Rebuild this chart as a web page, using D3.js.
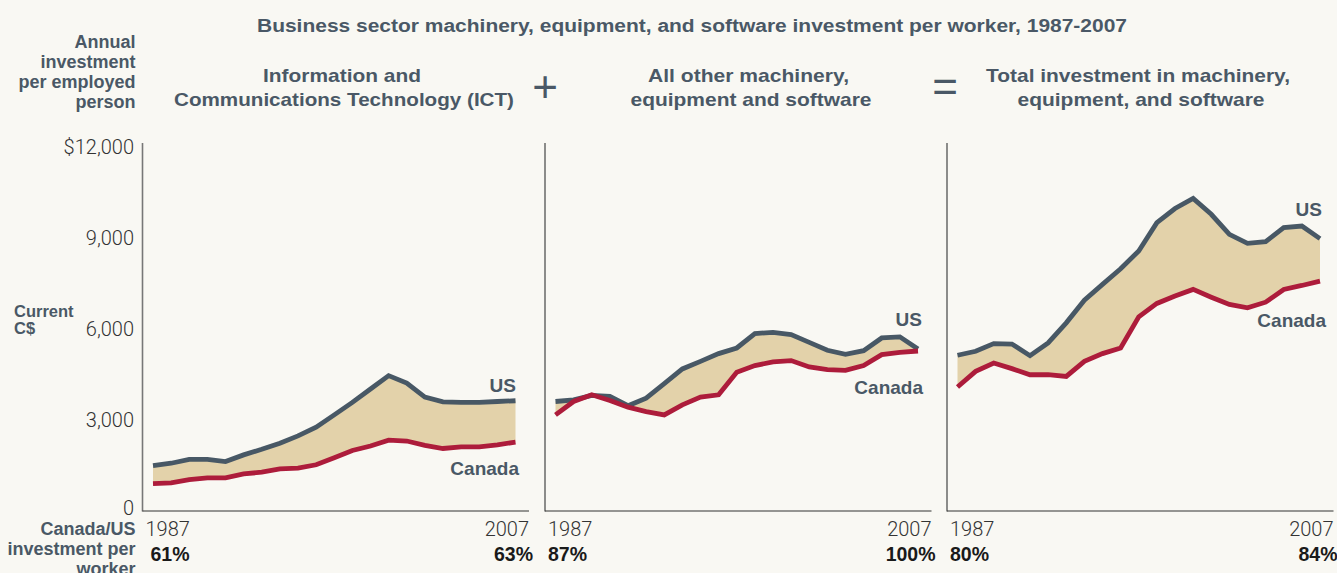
<!DOCTYPE html>
<html><head><meta charset="utf-8">
<script src="https://cdn.jsdelivr.net/npm/d3@7"></script>
<style>html,body{margin:0;padding:0;background:#f9f8f3;} svg{display:block;}</style>
</head><body>
<svg id="c" width="1337" height="573"></svg>
<script>
// ---------- DATA ----------
const years = [1987,1988,1989,1990,1991,1992,1993,1994,1995,1996,1997,1998,1999,2000,2001,2002,2003,2004,2005,2006,2007];
const ictUS   = [1490,1570,1700,1700,1625,1845,2030,2230,2470,2755,3160,3570,4010,4450,4205,3745,3590,3570,3570,3600,3625];
const ictCA   = [ 900, 925,1035,1090,1090,1220,1275,1385,1410,1520,1750,1990,2135,2330,2300,2155,2055,2110,2110,2175,2265];
const otherUS = [3600,3655,3800,3765,3460,3710,4185,4670,4920,5175,5360,5835,5875,5800,5545,5285,5150,5270,5690,5725,5325];
const otherCA = [3160,3600,3820,3635,3415,3270,3160,3490,3745,3820,4560,4780,4900,4945,4735,4645,4625,4780,5140,5215,5260];
const totalUS = [5120,5250,5505,5490,5105,5525,6185,6930,7450,7965,8550,9480,9945,10275,9755,9095,8800,8855,9315,9370,8955];
const totalCA = [4075,4590,4865,4680,4480,4480,4425,4920,5175,5360,6385,6825,7065,7285,7030,6790,6680,6865,7285,7415,7560];
const yTicks = [0,3000,6000,9000,12000];
const mainTitle = "Business sector machinery, equipment, and software investment per worker, 1987-2007";
const panelTitles = [
  ["Information and","Communications Technology (ICT)"],
  ["All other machinery,","equipment and software"],
  ["Total investment in machinery,","equipment, and software"]
];
const startPct = ["61%","87%","80%"];
const endPct   = ["63%","100%","84%"];
const seriesNames = ["US","Canada"];

// ---------- LAYOUT ----------
const W = 1337, H = 573;
const svg = d3.select("#c");
const slate = "#4a5866", usCol = "#485865", caCol = "#ad1c3b", fillCol = "#e3d2aa";
const boldFont = "'Liberation Sans', Arial, Helvetica, sans-serif";
const lightFont = "Roboto, 'Liberation Sans', sans-serif";

const y = d3.scaleLinear().domain([0,12000]).range([511,146]);
const panels = [
  {ax:142.5, us:ictUS, ca:ictCA, title:panelTitles[0], tw:[158,340], tc:[342,344],
   usLab:[516,385], caLab:[519,468]},
  {ax:545, us:otherUS, ca:otherCA, title:panelTitles[1], tw:[201,241], tc:[748.5,751],
   usLab:[922,319], caLab:[923,387]},
  {ax:947, us:totalUS, ca:totalCA, title:panelTitles[2], tw:[304,247], tc:[1138,1141],
   usLab:[1322,209], caLab:[1326,320]}
];

svg.append("rect").attr("width",W).attr("height",H).attr("fill","#f9f8f3");

// main title
svg.append("text").text(mainTitle)
  .attr("x",692).attr("y",26).attr("dy","0.35em").attr("text-anchor","middle")
  .attr("font-family",boldFont).attr("font-weight","bold").attr("font-size",18)
  .attr("fill",slate).attr("textLength",870).attr("lengthAdjust","spacingAndGlyphs");

// left labels
const leftTop = ["Annual","investment","per employed","person"];
leftTop.forEach((t,i)=>{
  svg.append("text").text(t).attr("x",135.5).attr("y",[42,62,82,101.5][i]).attr("dy","0.35em")
    .attr("text-anchor","end").attr("font-family",boldFont).attr("font-weight","bold")
    .attr("font-size",18).attr("fill",slate);
});
["Current","C$"].forEach((t,i)=>{
  svg.append("text").text(t).attr("x",14).attr("y",[311,328][i]).attr("dy","0.35em")
    .attr("font-family",boldFont).attr("font-weight","bold").attr("font-size",16.5)
    .attr("fill",slate);
});
["Canada/US","investment per","worker"].forEach((t,i)=>{
  svg.append("text").text(t).attr("x",135.5).attr("y",[529,549,568.5][i]).attr("dy","0.35em")
    .attr("text-anchor","end").attr("font-family",boldFont).attr("font-weight","bold")
    .attr("font-size",18).attr("fill",slate);
});

// operators
svg.append("text").text("+").attr("x",545).attr("y",101.5)
  .attr("text-anchor","middle").attr("font-family","'Liberation Sans', Arial, sans-serif")
  .attr("font-size",44).attr("fill",slate);
svg.append("text").text("=").attr("x",945).attr("y",101.5)
  .attr("text-anchor","middle").attr("font-family","'Liberation Sans', Arial, sans-serif")
  .attr("font-size",44).attr("fill",slate);

panels.forEach((p,pi)=>{
  const x = d3.scaleLinear().domain([years[0], years[years.length-1]]).range([p.ax+10.5, p.ax+373]);
  const g = svg.append("g");

  // titles
  p.title.forEach((t,i)=>{
    g.append("text").text(t).attr("x",p.tc[i]).attr("y",[75,99][i]).attr("dy","0.35em")
      .attr("text-anchor","middle").attr("font-family",boldFont).attr("font-weight","bold")
      .attr("font-size",19).attr("fill",slate)
      .attr("textLength",p.tw[i]).attr("lengthAdjust","spacingAndGlyphs");
  });

  // area between
  const area = d3.area().x((d,i)=>x(years[i])).y0((d,i)=>y(p.ca[i])).y1(d=>y(d));
  g.append("path").datum(p.us).attr("d",area).attr("fill",fillCol);

  const line = d3.line().x((d,i)=>x(years[i])).y(d=>y(d));
  g.append("path").datum(p.us).attr("d",line).attr("fill","none")
    .attr("stroke",usCol).attr("stroke-width",4.8).attr("stroke-linejoin","miter");
  g.append("path").datum(p.ca).attr("d",line).attr("fill","none")
    .attr("stroke",caCol).attr("stroke-width",4.8).attr("stroke-linejoin","miter");

  // axes
  g.append("line").attr("x1",p.ax).attr("x2",p.ax).attr("y1",143).attr("y2",511.5)
    .attr("stroke", pi===0 ? "#777" : "#333").attr("stroke-width", pi===0 ? 1.6 : 1.1);
  g.append("line").attr("x1",p.ax).attr("x2",p.ax+386.5).attr("y1",511).attr("y2",511)
    .attr("stroke","#333").attr("stroke-width",1.1);

  if(pi===0){
    const yAxis = d3.axisLeft(y).tickValues(yTicks).tickSize(0).tickPadding(8)
      .tickFormat(d=> d===12000 ? "$12,000" : d3.format(",")(d));
    const ag = svg.append("g").attr("transform",`translate(${p.ax-0.5},0)`).call(yAxis);
    ag.select(".domain").remove();
    ag.selectAll("text").attr("font-family",lightFont).attr("font-weight",300)
      .attr("font-size",20).attr("fill","#333")
      .attr("dy", d=> d===0 ? "0.15em" : "0.35em");
  }

  // year labels
  g.append("text").text(years[0]).attr("x",p.ax+3).attr("y",528.5).attr("dy","0.35em")
    .attr("font-family",lightFont).attr("font-weight",300).attr("font-size",20).attr("fill","#333");
  g.append("text").text(years[years.length-1]).attr("x",p.ax+386.5).attr("y",528.5).attr("dy","0.35em")
    .attr("text-anchor","end").attr("font-family",lightFont).attr("font-weight",300)
    .attr("font-size",20).attr("fill","#333");

  // percentages
  g.append("text").text(startPct[pi]).attr("x",p.ax+ (pi===0?8:3)).attr("y",554.5).attr("dy","0.35em")
    .attr("font-family",boldFont).attr("font-weight","bold").attr("font-size",19.5).attr("fill","#1a1a1a");
  g.append("text").text(endPct[pi]).attr("x",p.ax+390.5).attr("y",554.5).attr("dy","0.35em")
    .attr("text-anchor","end").attr("font-family",boldFont).attr("font-weight","bold")
    .attr("font-size",19.5).attr("fill","#1a1a1a");

  // series labels
  g.append("text").text(seriesNames[0]).attr("x",p.usLab[0]).attr("y",p.usLab[1]).attr("dy","0.35em")
    .attr("text-anchor","end").attr("font-family",boldFont).attr("font-weight","bold")
    .attr("font-size",19).attr("fill",slate);
  g.append("text").text(seriesNames[1]).attr("x",p.caLab[0]).attr("y",p.caLab[1]).attr("dy","0.35em")
    .attr("text-anchor","end").attr("font-family",boldFont).attr("font-weight","bold")
    .attr("font-size",19).attr("fill",slate);
});
</script>
</body></html>
